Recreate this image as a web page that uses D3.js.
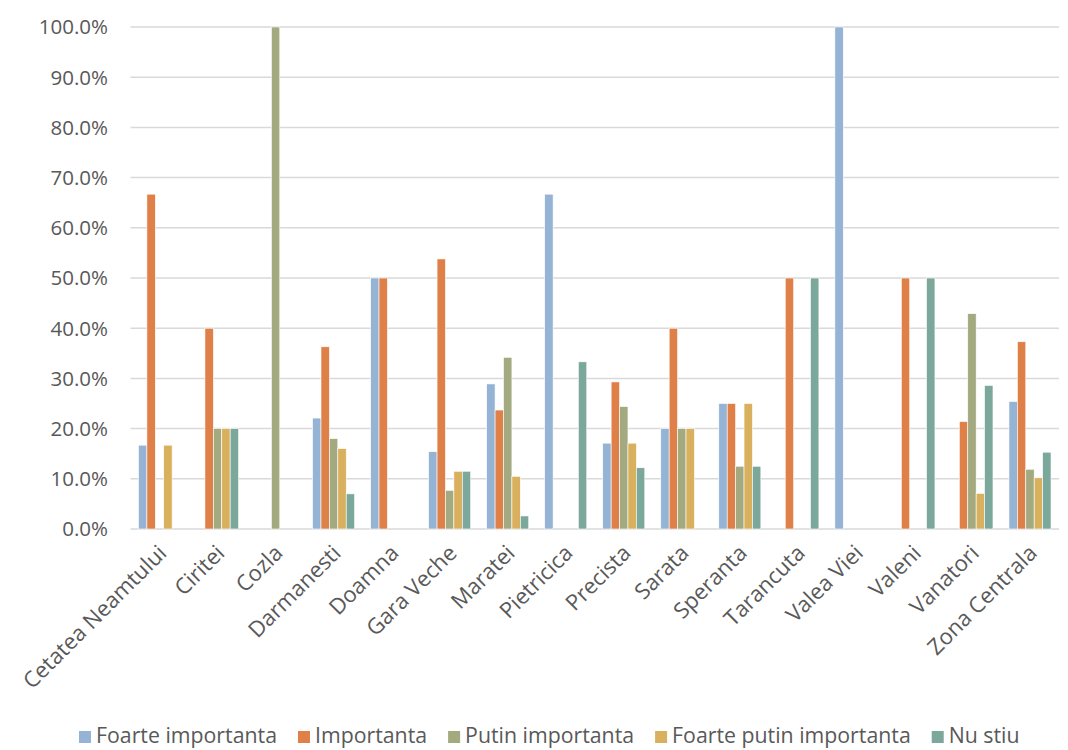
<!DOCTYPE html>
<html>
<head>
<meta charset="utf-8">
<script src="https://cdn.jsdelivr.net/npm/d3@7"></script>
<style>
  body { margin: 0; background: #fff; }
  text { font-family: "Open Sans", "Noto Sans", sans-serif; fill: #595959; }
</style>
</head>
<body>
<div id="chart"></div>
<script>
var w = 1068, h = 750;

var categories = ["Cetatea Neamtului", "Ciritei", "Cozla", "Darmanesti", "Doamna",
  "Gara Veche", "Maratei", "Pietricica", "Precista", "Sarata", "Speranta",
  "Tarancuta", "Valea Viei", "Valeni", "Vanatori", "Zona Centrala"];

var seriesNames = ["Foarte importanta", "Importanta", "Putin importanta", "Foarte putin importanta", "Nu stiu"];
var colors = ["#95b4d5", "#df8049", "#a3aa7f", "#d9b15e", "#7ca89c"];

// percent values per series, one per category
var foarteImportanta = [16.7, 0, 0, 22.1, 50, 15.4, 28.9, 66.7, 17.1, 20, 25, 0, 100, 0, 0, 25.4];
var importanta       = [66.7, 40, 0, 36.3, 50, 53.8, 23.7, 0, 29.3, 40, 25, 50, 0, 50, 21.4, 37.3];
var putinImportanta  = [0, 20, 100, 18.0, 0, 7.7, 34.2, 0, 24.4, 20, 12.5, 0, 0, 0, 42.9, 11.9];
var foartePutin      = [16.7, 20, 0, 16.0, 0, 11.5, 10.5, 0, 17.1, 20, 25, 0, 0, 0, 7.1, 10.2];
var nuStiu           = [0, 20, 0, 7.0, 0, 11.5, 2.6, 33.3, 12.2, 0, 12.5, 50, 0, 50, 28.6, 15.3];

var yTicks = [0, 10, 20, 30, 40, 50, 60, 70, 80, 90, 100];

var seriesValues = [foarteImportanta, importanta, putinImportanta, foartePutin, nuStiu];

var plotLeft = 130.5, plotRight = 1059, plotTop = 27, plotBottom = 529;

var svg = d3.select("#chart").append("svg")
  .attr("width", w)
  .attr("height", h);

var x0 = d3.scaleBand().domain(categories).range([plotLeft, plotRight]).padding(0);
var x1 = d3.scaleBand().domain(seriesNames).range([0, x0.bandwidth()]).paddingInner(0).paddingOuter(0.95);
var y = d3.scaleLinear().domain([0, 100]).range([plotBottom, plotTop]);

// gridlines
svg.append("g").selectAll("line")
  .data(yTicks)
  .enter().append("line")
  .attr("x1", plotLeft).attr("x2", plotRight)
  .attr("y1", function(d) { return y(d); })
  .attr("y2", function(d) { return y(d); })
  .attr("stroke", "#d9d9d9")
  .attr("stroke-width", 1.5);

// y labels
svg.append("g").selectAll("text")
  .data(yTicks)
  .enter().append("text")
  .attr("x", 108)
  .attr("y", function(d) { return y(d); })
  .attr("dy", "0.36em")
  .attr("text-anchor", "end")
  .style("font-size", "20.5px")
  .text(function(d) { return d.toFixed(1) + "%"; });

// bars
var rows = [];
categories.forEach(function(c, i) {
  seriesNames.forEach(function(s, j) {
    rows.push({ cat: c, series: s, idx: j, value: seriesValues[j][i] });
  });
});

svg.append("g").selectAll("rect")
  .data(rows.filter(function(d) { return d.value > 0; }))
  .enter().append("rect")
  .attr("x", function(d) { return x0(d.cat) + x1(d.series); })
  .attr("width", x1.bandwidth())
  .attr("y", function(d) { return y(d.value); })
  .attr("height", function(d) { return y(0) - y(d.value); })
  .attr("fill", function(d) { return colors[d.idx]; })
  .attr("stroke", "#fff")
  .attr("stroke-width", 0.6);

// x labels
svg.append("g").selectAll("text")
  .data(categories)
  .enter().append("text")
  .attr("transform", function(d) {
    return "translate(" + (x0(d) + x0.bandwidth() / 2 + 3) + "," + (plotBottom + 20) + ") rotate(-45)";
  })
  .attr("text-anchor", "end")
  .attr("dy", "0.35em")
  .style("font-size", "22px")
  .text(function(d) { return d; });

// legend
var legend = svg.append("g");
var lx = 79;
seriesNames.forEach(function(s, i) {
  legend.append("rect")
    .attr("x", lx).attr("y", 731)
    .attr("width", 12).attr("height", 12)
    .attr("fill", colors[i]);
  var t = legend.append("text")
    .attr("x", lx + 17).attr("y", 736)
    .attr("dy", "0.35em")
    .style("font-size", "21.3px")
    .text(s);
  lx += 17 + t.node().getComputedTextLength() + 21;
});
</script>
</body>
</html>
